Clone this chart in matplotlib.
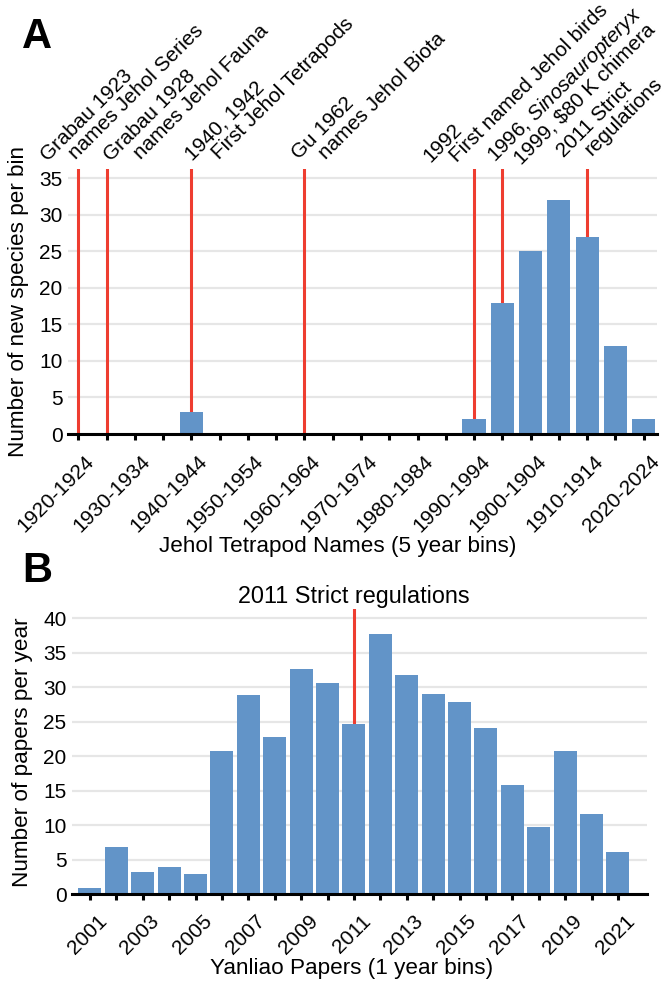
import matplotlib
matplotlib.use("Agg")
import matplotlib.pyplot as plt
import matplotlib.transforms as mtransforms

plt.rcParams['font.family'] = ['Liberation Sans', 'DejaVu Sans']
plt.rcParams['mathtext.fontset'] = 'custom'
plt.rcParams['mathtext.it'] = 'Liberation Sans:italic'
plt.rcParams['mathtext.rm'] = 'Liberation Sans'

# ---- Panel A: Jehol tetrapod names, 5-year bins ----
bin_starts = list(range(1920, 2025, 5))
species_counts = [0, 0, 0, 0, 3, 0, 0, 0, 0, 0, 0, 0, 0, 0, 2, 18, 25, 32, 27, 12, 2]
a_tick_labels = ["1920-1924", "1930-1934", "1940-1944", "1950-1954", "1960-1964",
                 "1970-1974", "1980-1984", "1990-1994", "1900-1904", "1910-1914",
                 "2020-2024"]
event_years = [1923, 1928, 1940, 1962, 1992, 1996, 2011]
event_line1 = ["Grabau 1923", "Grabau 1928", "1940, 1942", "Gu 1962", "1992",
               r"1996, $\mathit{Sinosauropteryx}$", "2011 Strict"]
event_line2 = ["names Jehol Series", "names Jehol Fauna", "First Jehol Tetrapods",
               "names Jehol Biota", "First named Jehol birds", "1999, \\$80 K chimera",
               "regulations"]

# ---- Panel B: Yanliao papers, 1-year bins ----
paper_years = list(range(2001, 2022))
paper_counts = [0.9, 6.9, 3.2, 3.9, 3.0, 20.8, 28.9, 22.8, 32.6, 30.6, 24.7,
                37.7, 31.8, 29.0, 27.9, 24.1, 15.8, 9.8, 20.8, 11.7, 6.1]
b_tick_labels = [str(y) for y in range(2001, 2022, 2)]
b_event_year = 2011
b_event_text = "2011 Strict regulations"

BAR = '#6294C8'
RED = '#EE3D30'
GRID = '#E6E6E6'
TICK_FS = 15
LABEL_FS = 16.2
NOTE_FS = 14.9

W, H = 668, 982
fig = plt.figure(figsize=(W / 100, H / 100), dpi=100)


def px_axes(l, r, top, bottom):
    return fig.add_axes([l / W, 1 - bottom / H, (r - l) / W, (bottom - top) / H])


def style_axis(ax, yticks):
    for s in ('left', 'right', 'top'):
        ax.spines[s].set_visible(False)
    ax.spines['bottom'].set_linewidth(2.2)
    ax.spines['bottom'].set_zorder(5)
    ax.set_yticks(yticks)
    ax.tick_params(axis='y', length=0, labelsize=TICK_FS, pad=4)
    ax.tick_params(axis='x', length=4.5, width=2.2, labelsize=TICK_FS, pad=8)
    ax.yaxis.grid(True, color=GRID, linewidth=1.6)
    ax.set_axisbelow(True)


def rotate_xlabels(ax, dx_px):
    shift = mtransforms.ScaledTranslation(dx_px / 100, 0, fig.dpi_scale_trans)
    for lab in ax.get_xticklabels():
        lab.set_rotation(45)
        lab.set_ha('right')
        lab.set_va('top')
        lab.set_rotation_mode('anchor')
        lab.set_transform(lab.get_transform() + shift)


# ---------------- Panel A ----------------
axA = px_axes(68, 657, 169, 434)
nA = len(bin_starts)
xa = list(range(nA))
style_axis(axA, range(0, 36, 5))
axA.set_xlim(-0.364, 20.47)
axA.set_ylim(0, 36.3)

for yr in event_years:
    axA.axvline((yr - bin_starts[0]) // 5, color=RED, linewidth=2.2, zorder=1)
axA.bar(xa, species_counts, width=0.82, color=BAR, zorder=2)

axA.set_xticks(xa)
labsA = []
k = 0
for i in xa:
    if i % 2 == 0:
        labsA.append(a_tick_labels[k])
        k += 1
    else:
        labsA.append("")
axA.set_xticklabels(labsA)
rotate_xlabels(axA, 6)

axA.set_ylabel("Number of new species per bin", fontsize=LABEL_FS, labelpad=7)
axA.set_xlabel("Jehol Tetrapod Names (5 year bins)", fontsize=LABEL_FS, labelpad=0)
axA.xaxis.label.set_x(0.458)

# annotation text offsets (pixels) of the first line from the event line top
a_offsets = [(-30.6, 7.3), (4.4, 7.3), (1.3, 7.3), (-5.2, 9.0),
             (-44.0, 6.3), (-8.0, 6.0), (-23.5, 11.0)]
line2_shift = [(28.3, 1.7), (30.0, 1.7), (26.6, 1.7), (26.7, 0.0),
               (26.6, -0.3), (27.0, -2.5), (28.3, 2.0)]
blendA = mtransforms.blended_transform_factory(axA.transData, axA.transAxes)
for yr, t1, t2, (dx, dy), (sx, sy) in zip(event_years, event_line1, event_line2,
                                           a_offsets, line2_shift):
    xpos = (yr - bin_starts[0]) // 5
    for txt, ox, oy in ((t1, dx, dy), (t2, dx + sx, dy + sy)):
        tr = mtransforms.offset_copy(blendA, fig=fig, x=ox, y=oy, units='dots')
        axA.text(xpos, 1, txt, transform=tr, rotation=45, rotation_mode='anchor',
                 ha='left', va='baseline', fontsize=NOTE_FS, clip_on=False)

# ---------------- Panel B ----------------
axB = px_axes(72, 647, 609.3, 894.3)
nB = len(paper_years)
xb = list(range(nB))
style_axis(axB, range(0, 41, 5))
axB.set_xlim(-0.68, 21.1)
axB.set_ylim(0, 41.3)

bx = paper_years.index(b_event_year)
axB.axvline(bx, color=RED, linewidth=2.2, zorder=1)
axB.bar(xb, paper_counts, width=0.87, color=BAR, zorder=2)

axB.set_xticks(xb)
axB.set_xticklabels([str(y) if (y - paper_years[0]) % 2 == 0 else "" for y in paper_years])
rotate_xlabels(axB, 7)

blendB = mtransforms.blended_transform_factory(axB.transData, axB.transAxes)
trB = mtransforms.offset_copy(blendB, fig=fig, x=0, y=6, units='dots')
axB.text(bx, 1, b_event_text, transform=trB, ha='center', va='baseline',
         fontsize=16.8, clip_on=False)

axB.set_ylabel("Number of papers per year", fontsize=LABEL_FS, labelpad=7)
axB.set_xlabel("Yanliao Papers (1 year bins)", fontsize=LABEL_FS, labelpad=0)
axB.xaxis.label.set_x(0.486)

# panel letters
fig.text(22 / W, 1 - 48.3 / H, "A", fontsize=30, fontweight='bold', va='baseline')
fig.text(22 / W, 1 - 581.7 / H, "B", fontsize=30, fontweight='bold', va='baseline')

fig.savefig("out.png", dpi=100)
